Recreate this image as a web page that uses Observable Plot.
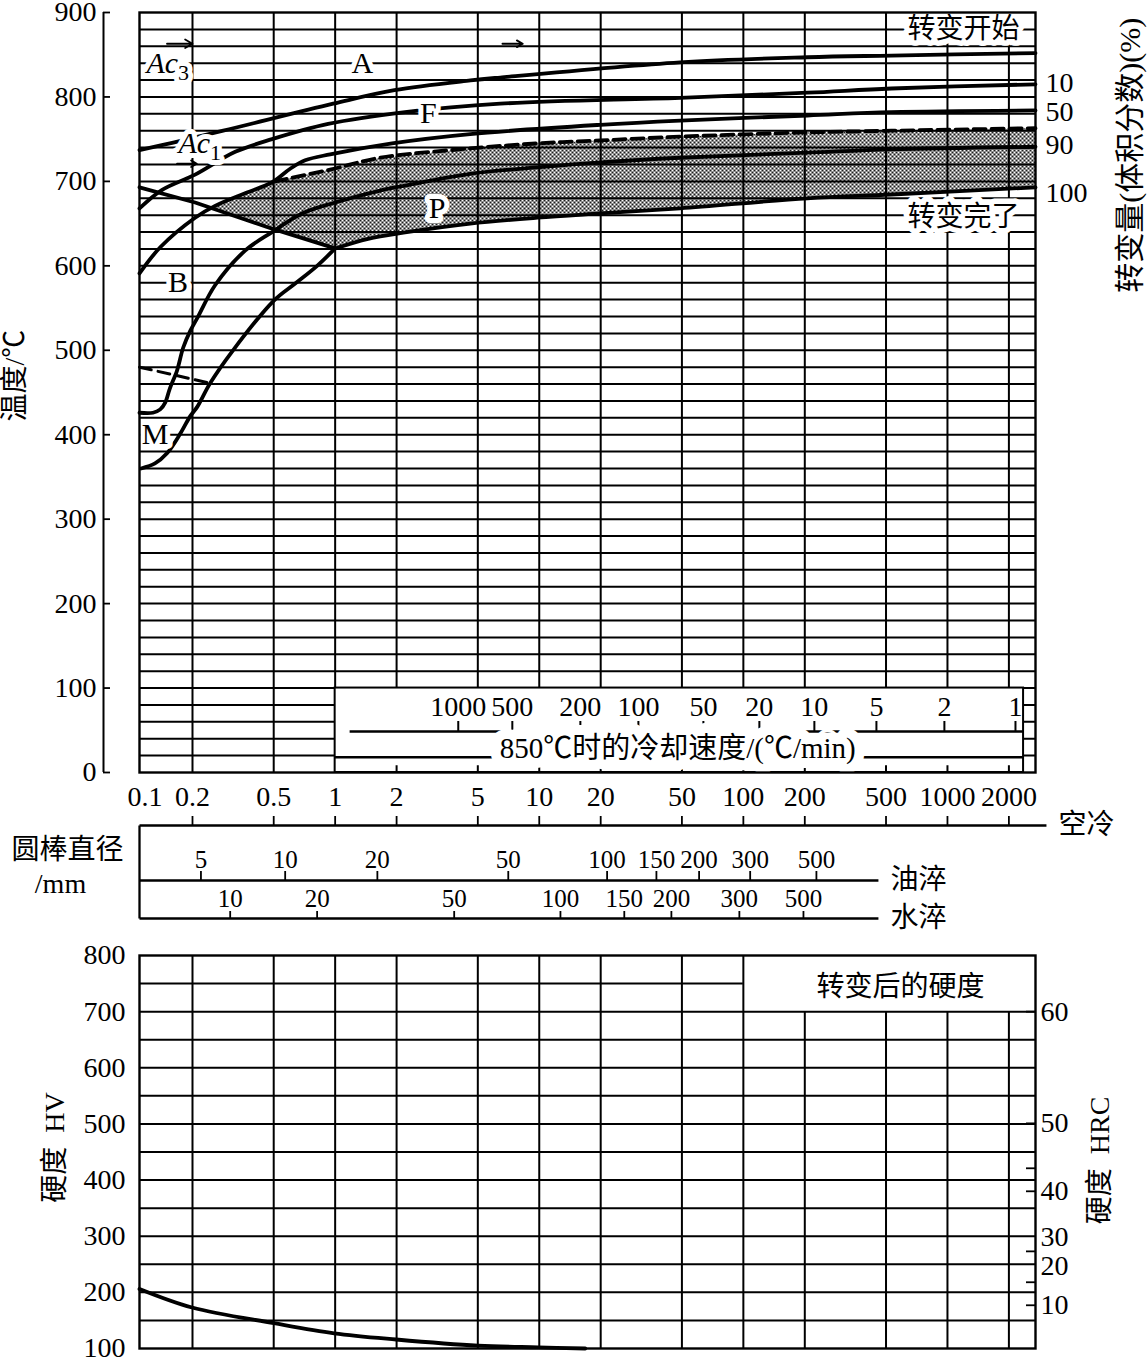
<!DOCTYPE html>
<html><head><meta charset="utf-8">
<script src="https://cdn.jsdelivr.net/npm/d3@7"></script>
<script src="https://cdn.jsdelivr.net/npm/@observablehq/plot@0.6"></script>
<style>
body{margin:0;background:#fff;}
#page{position:relative;width:1147px;height:1357px;overflow:hidden;background:#fff;}
#page svg{position:absolute;left:0;}
</style></head><body><div id="page"></div>
<script>
// ---------------- data ----------------
// time axis, minutes (log)
const timeGrid = [0.2, 0.5, 1, 2, 5, 10, 20, 50, 100, 200, 500, 1000, 2000];
const airLabels = [0.2, 0.5, 1, 2, 5, 10, 20, 50, 100, 200, 500, 1000, 2000];
const tempTicks = [0, 100, 200, 300, 400, 500, 600, 700, 800, 900];

// CCT curves: [time (min), temperature (°C)]
const startCurve = [[0.11,737],[0.161,746],[0.283,760],[0.978,792],[1.95,808],[4.6,819.5],[6.44,823],[49,841],[206,847],[531,849],[2700,852]];
const curve10 = [[0.11,668],[0.142,690],[0.206,708],[0.324,735],[0.491,750],[0.924,768],[2.2,782],[6.44,792],[49,799],[206,805],[531,810],[2700,815]];
const curve50 = [[0.11,591],[0.139,622],[0.206,657],[0.258,671],[0.362,686],[0.491,699],[0.602,715],[0.713,725],[0.945,732],[1.9,745],[4.59,756],[19.9,767],[49,772],[206,778],[531,782],[2700,784]];
const dashed90 = [[0.508,700],[0.945,714],[1.66,728],[4.59,739],[9.78,745],[19.9,748.5],[49,753],[206,758],[531,760],[2700,763]];
const curve90 = [[0.11,426],[0.128,426],[0.139,430],[0.147,438],[0.155,455],[0.168,476],[0.18,503],[0.195,523],[0.211,538],[0.258,577],[0.362,618],[0.491,640],[0.689,662],[1.0,675],[1.66,689],[2.2,695],[4.59,709],[9.78,716.5],[19.9,722.5],[49,728],[206,734],[531,738],[2700,741]];
const martensite = [[0.112,360],[0.131,366],[0.15,378],[0.174,401],[0.195,422],[0.211,433],[0.244,461],[0.316,500],[0.497,558],[0.637,579],[0.816,600],[1.0,620.6]];
const curve100 = [[1.0,620.6],[1.45,632],[2.2,639.5],[4.59,650],[9.78,657],[19.9,662],[49,668],[206,680],[531,684.5],[2700,693]];
const noseLine = [[0.11,693],[0.206,675],[0.491,644],[1.0,620.6]];
const msDashed = [[0.11,480],[0.244,461]];
const hatchTip = [0.25, 668];

// transformation amount labels at the right edge (%)
const amountLabels = ["10", "50", "90", "100"];
const amountTemps = [817, 782, 743, 686];

// cooling rate at 850°C (°C/min) and the equivalent time position
const rateValues = [1000, 500, 200, 100, 50, 20, 10, 5, 2, 1];
const rateTimes = [4.01, 7.38, 15.9, 30.6, 63.7, 119.8, 222.8, 448.7, 966, 2154];

// bar diameters (mm) and equivalent cooling times
const oilDiam = [5, 10, 20, 50, 100, 150, 200, 300, 500];
const oilTimes = [0.22, 0.569, 1.61, 7.05, 21.5, 37.5, 60.7, 108, 228];
const waterDiam = [10, 20, 50, 100, 150, 200, 300, 500];
const waterTimes = [0.306, 0.816, 3.83, 12.7, 26.1, 44.4, 95.6, 197];

// hardness after transformation
const hvTicks = [100, 200, 300, 400, 500, 600, 700, 800];
const hardness = [[0.11,206],[0.199,173],[0.502,145],[0.989,127],[1.99,116],[5.02,105],[9.9,102],[16.8,100]];
const hrcValues = ["60", "50", "", "40", "30", "20", "10"];
const hrcHV = [700, 501, 421, 380, 273, 218, 177];

// ---------------- layout ----------------
const FONT = "'Liberation Serif','Noto Sans CJK SC',serif";
const W = 1147, ML = 139, MR = 112;
const X_DOMAIN = [0.11, 2700];
const GRID_W = 2, CURVE_W = 3.8;
const NUM_FS = 28, CJK_FS = 28, DIAM_FS = 25;
const rateBox = {x1: 1, x2: 2360, y1: 0, y2: 100};
const hrcLabelShift = [0, 0, 0, 0, -14, -16, 0];

const xy = {x: d => d[0], y: d => d[1]};
const halo = {stroke: "white", strokeWidth: 10, fill: "black"};

// hatched pearlite region built from the curves
const hatchPoly = [
  hatchTip,
  ...curve50.filter(p => p[0] > hatchTip[0] && p[0] < dashed90[0][0]),
  ...dashed90,
  ...curve100.slice().reverse(),
  ...noseLine.filter(p => p[0] > hatchTip[0] && p[0] < 1).reverse(),
  hatchTip
];

const page = document.getElementById("page");
function place(svg, top) { svg.style.top = top + "px"; page.appendChild(svg); }
const baseStyle = {fontFamily: FONT, background: "transparent", overflow: "visible", fontSize: "26px"};

// ---------------- top CCT chart ----------------
const plotA = Plot.plot({
  width: W, height: 790, marginTop: 12, marginBottom: 18, marginLeft: ML, marginRight: MR,
  style: baseStyle,
  x: {type: "log", domain: X_DOMAIN, axis: null},
  y: {domain: [0, 900]},
  marks: [
    // pearlite hatched area (under the grid)
    Plot.line(hatchPoly, {...xy, fill: "url(#xhatch)", stroke: "none"}),
    Plot.ruleY(d3.range(20, 900, 20), {strokeWidth: GRID_W}),
    Plot.ruleX(timeGrid, {strokeWidth: GRID_W}),
    // cooling-rate inset
    Plot.rect([rateBox], {x1: "x1", x2: "x2", y1: "y1", y2: "y2", fill: "white", stroke: "black", strokeWidth: 2}),
    Plot.ruleX(timeGrid.filter(t => t > 1), {y1: 0, y2: 8, strokeWidth: GRID_W}),
    Plot.ruleY([48.6], {x1: 1.184, x2: rateBox.x2, strokeWidth: 2.4}),
    Plot.ruleX(rateTimes, {y1: 48.6, y2: 60.4, strokeWidth: GRID_W}),
    Plot.text(rateTimes, {x: d => d, y: 77, text: (d, i) => String(rateValues[i]), fontSize: NUM_FS}),
    Plot.ruleY([18], {x1: 1, x2: rateBox.x2, strokeWidth: 2.4}),
    Plot.text(["850℃时的冷却速度/(℃/min)"], {x: 47.7, y: 28.4, text: d => d, fontSize: 29, stroke: "white", strokeWidth: 20, fill: "black"}),
    // curves
    Plot.line(startCurve, {...xy, strokeWidth: CURVE_W, curve: "catmull-rom"}),
    Plot.line(curve10, {...xy, strokeWidth: CURVE_W, curve: "catmull-rom"}),
    Plot.line(curve50, {...xy, strokeWidth: CURVE_W, curve: "catmull-rom"}),
    Plot.line(dashed90, {...xy, strokeWidth: CURVE_W, strokeDasharray: "12,6", curve: "catmull-rom"}),
    Plot.line(curve90, {...xy, strokeWidth: CURVE_W, curve: "catmull-rom"}),
    Plot.line(martensite, {...xy, strokeWidth: CURVE_W, curve: "catmull-rom"}),
    Plot.line(curve100, {...xy, strokeWidth: CURVE_W, curve: "catmull-rom"}),
    Plot.line(noseLine, {...xy, strokeWidth: CURVE_W}),
    Plot.line(msDashed, {...xy, strokeWidth: 3, strokeDasharray: "12,7"}),
    // arrows at Ac3 / Ac1
    Plot.arrow([[0.15,863,0.2,863],[6.6,863,8.3,863],[0.168,721,0.21,721]], {x1: d => d[0], y1: d => d[1], x2: d => d[2], y2: d => d[3], strokeWidth: 1.8, headLength: 10}),
    // labels
    Plot.text([["A",1.357,840],["F",2.86,780],["B",0.17,580],["M",0.131,400],["P",3.16,668]], {x: d => d[1], y: d => d[2], text: d => d[0], fontSize: 30, ...halo}),
    Plot.text([["转变开始",1197,880],["转变完了",1197,658]], {x: d => d[1], y: d => d[2], text: d => d[0], fontSize: CJK_FS, stroke: "white", strokeWidth: 11, fill: "black"}),
    Plot.text([[0.17,840],[0.244,745]], {x: d => d[0], y: d => d[1], text: () => "Ac", textAnchor: "end", fontStyle: "italic", fontSize: 30, ...halo}),
    Plot.text([["3",0.17,840],["1",0.244,745]], {x: d => d[1], y: d => d[2], text: d => d[0], textAnchor: "start", dy: 10, fontSize: 22, ...halo}),
    Plot.frame({strokeWidth: 2.4}),
    // right-side amount scale
    Plot.text(amountTemps, {x: X_DOMAIN[1], y: d => d, text: (d, i) => amountLabels[i], textAnchor: "start", dx: 10, fontSize: NUM_FS}),
    Plot.text(["转变量(体积分数)(%)"], {x: X_DOMAIN[1], y: 731, text: d => d, dx: 95, rotate: -90, fontSize: 30}),
    // left temperature axis
    Plot.ruleX([X_DOMAIN[0]], {y1: 0, y2: 900, dx: -36, strokeWidth: GRID_W}),
    Plot.axisY(tempTicks, {anchor: "left", tickSize: 7, tickPadding: 7, dx: -29, strokeWidth: 1.8, fontSize: NUM_FS, label: null, tickFormat: d => String(d)}),
    Plot.text(["温度/℃"], {x: X_DOMAIN[0], y: 470, text: d => d, dx: -124, rotate: -90, fontSize: CJK_FS})
  ]
});
{
  const defs = d3.select(plotA).insert("defs", ":first-child");
  const pat = defs.append("pattern").attr("id", "xhatch").attr("patternUnits", "userSpaceOnUse").attr("width", 4).attr("height", 4);
  pat.append("path").attr("d", "M0,0L4,4M4,0L0,4M-1,3L1,5M3,-1L5,1M-1,1L1,-1M3,5L5,3").attr("stroke", "#111").attr("stroke-width", 0.95);
}
place(plotA, 0);

// ---------------- cooling / bar diameter scales ----------------
// y here is the depth (px) of each scale line below the air-cooling line
const rows = [{row: "空冷", pos: 0, end: 3055}, {row: "油淬", pos: 55, end: 459}, {row: "水淬", pos: 93, end: 459}];
const plotB = Plot.plot({
  width: W, height: 165, marginTop: 50, marginBottom: 22, marginLeft: ML, marginRight: MR,
  style: baseStyle,
  x: {type: "log", domain: X_DOMAIN, axis: null},
  y: {domain: [0, 93], range: [50, 143], axis: null},
  marks: [
    Plot.link(rows, {x1: X_DOMAIN[0], x2: "end", y1: "pos", y2: "pos", strokeWidth: 2.3}),
    Plot.link([0], {x1: X_DOMAIN[0], x2: X_DOMAIN[0], y1: 0, y2: 93, strokeWidth: 2.3}),
    Plot.ruleX(airLabels, {y1: -9, y2: 0, strokeWidth: 1.8}),
    Plot.text(airLabels, {x: d => d, y: -20, lineAnchor: "bottom", text: d => String(d), fontSize: NUM_FS}),
    Plot.text([0.1], {x: d => d, y: -20, dx: 14, lineAnchor: "bottom", text: d => String(d), fontSize: NUM_FS}),
    Plot.ruleX(oilTimes, {y1: 46, y2: 55, strokeWidth: 1.8}),
    Plot.text(oilTimes, {x: d => d, y: 42, lineAnchor: "bottom", text: (d, i) => String(oilDiam[i]), fontSize: DIAM_FS}),
    Plot.ruleX(waterTimes, {y1: 86, y2: 93, strokeWidth: 1.8}),
    Plot.text(waterTimes, {x: d => d, y: 81, lineAnchor: "bottom", text: (d, i) => String(waterDiam[i]), fontSize: DIAM_FS}),
    Plot.text(rows, {x: "end", y: "pos", text: "row", textAnchor: "start", dx: 12, fontSize: CJK_FS}),
    Plot.text(["圆棒直径"], {x: X_DOMAIN[0], y: 25, text: d => d, dx: -72, fontSize: CJK_FS}),
    Plot.text(["/mm"], {x: X_DOMAIN[0], y: 59, text: d => d, dx: -79, fontSize: CJK_FS})
  ]
});
place(plotB, 775);

// ---------------- hardness chart ----------------
const plotC = Plot.plot({
  width: W, height: 417, marginTop: 15, marginBottom: 9, marginLeft: ML, marginRight: MR,
  style: baseStyle,
  x: {type: "log", domain: X_DOMAIN, axis: null},
  y: {domain: [100, 800], axis: null},
  marks: [
    Plot.ruleY(d3.range(150, 800, 50), {x1: X_DOMAIN[0], x2: d => d === 750 ? 100 : X_DOMAIN[1], strokeWidth: GRID_W}),
    Plot.ruleX(timeGrid, {y1: 100, y2: d => d > 100 ? 700 : 800, strokeWidth: GRID_W}),
    Plot.frame({strokeWidth: 2.4}),
    Plot.line(hardness, {...xy, strokeWidth: CURVE_W, curve: "catmull-rom"}),
    Plot.text(["转变后的硬度"], {x: 588, y: 743, text: d => d, fontSize: CJK_FS}),
    Plot.axisY(hvTicks, {anchor: "left", tickSize: 0, tickPadding: 14, fontSize: NUM_FS, label: null, tickFormat: d => String(d)}),
    Plot.axisY(hrcHV, {anchor: "right", tickSize: 10, dx: -10, strokeWidth: 1.8, fontSize: 1, label: null, tickFormat: () => ""}),
    ...hrcHV.map((hv, i) => Plot.text([hv], {x: X_DOMAIN[1], y: d => d, text: () => hrcValues[i], textAnchor: "start", dx: 5, dy: hrcLabelShift[i], fontSize: NUM_FS})),
    Plot.text(["硬度  HV"], {x: X_DOMAIN[0], y: 458, text: d => d, dx: -84, rotate: -90, fontSize: CJK_FS}),
    Plot.text(["硬度  HRC"], {x: X_DOMAIN[1], y: 435, text: d => d, dx: 65, rotate: -90, fontSize: CJK_FS})
  ]
});
place(plotC, 940);
</script></body></html>
